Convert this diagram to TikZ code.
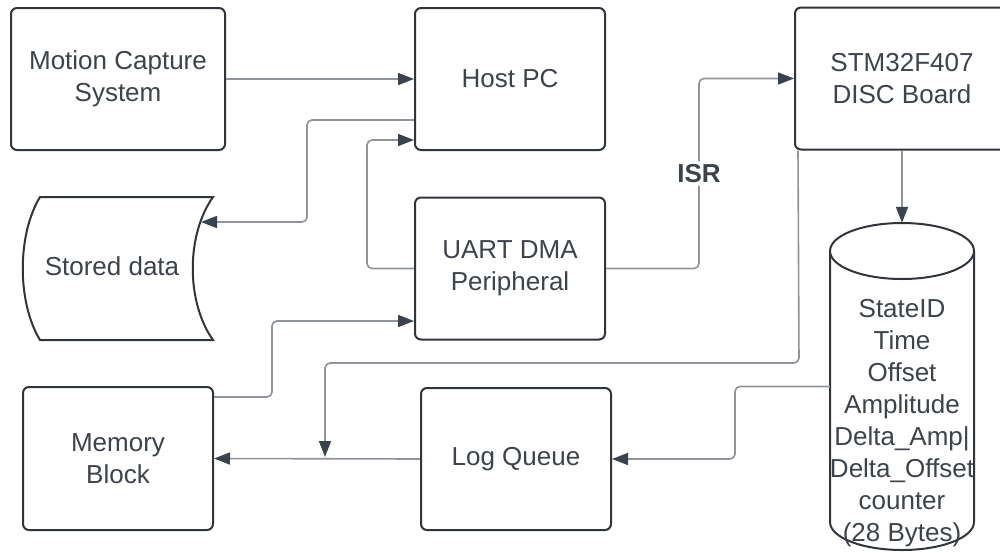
\documentclass[tikz,border=0pt]{standalone}
\usepackage{fontspec}
\setmainfont{Liberation Sans}
\usetikzlibrary{arrows.meta}
\definecolor{boxc}{HTML}{2F353B}
\definecolor{linec}{HTML}{8F949A}
\definecolor{tipc}{HTML}{3A424D}
\definecolor{txtc}{HTML}{3D434B}
\tikzset{
  blk/.style={draw=boxc, line width=2pt, rounded corners=6pt, fill=white,
    minimum width=190pt, minimum height=142pt, inner sep=0pt,
    align=center, text=txtc, font=\fontsize{26}{32}\selectfont},
  wideblk/.style={blk, minimum width=214pt},
  ghost/.style={inner sep=0pt, minimum width=#1},
  conn/.style={draw=linec, line width=1.6pt, rounded corners=5pt,
    -{Triangle[length=16pt,width=12pt,color=tipc]}},
  shapeline/.style={draw=boxc, line width=2pt, fill=white},
  isrlabel/.style={fill=white, inner sep=3pt, text=txtc,
    font=\fontsize{26}{32}\selectfont\bfseries},
  celltext/.style={align=center, text=txtc, inner sep=0pt,
    font=\fontsize{26}{32}\selectfont}
}
\begin{document}
\begin{tikzpicture}[x=1pt, y=-1pt]
\useasboundingbox[fill=white] (0,0) rectangle (1000,552);

% blocks
\node[wideblk] (mc)   at (118,79)    {Motion Capture\\System};
\node[blk]     (host) at (510,79)    {Host PC};
\node[wideblk] (stm)  at (902,78.5)  {STM32F407\\DISC Board};
\node[blk]     (uart) at (510,268.5) {UART DMA\\Peripheral};
\node[blk]     (logq) at (516,459)   {Log Queue};
\node[blk, minimum height=143pt] (mem) at (118,458.5) {Memory\\Block};

% stored data (curved-side storage symbol)
\path[shapeline] (40,197) -- (213,197) .. controls (186,235) and (186,302) .. (213,340)
  -- (40,340) .. controls (17,302) and (17,235) .. (40,197) -- cycle;
\node[celltext] (sd) at (112,266) {Stored data};
\coordinate (sdin) at (201,222);

% record store (cylinder)
\node[ghost=144pt, minimum height=327pt] (db) at (902,386.5) {};
\path[shapeline] (830,251) -- (830,522)
  arc[start angle=180, end angle=360, x radius=72pt, y radius=28pt]
  -- (974,251);
\path[shapeline] (902,251) ellipse [x radius=72pt, y radius=28pt];
\node[celltext] (dbtext) at (902,423)
  {StateID\\Time\\Offset\\Amplitude\\Delta\_Amp|\\Delta\_Offset\\counter\\(28 Bytes)};

% connectors
\draw[conn] (mc.east) -- (host.west);
\draw[conn] ([yshift=-41pt]host.west) -| (307,222) -- (sdin);
\draw[conn] (uart.west) -| (367,140) -- ([yshift=-61pt]host.west);
\draw[conn] ([yshift=61.5pt]mem.east) -| (272,321) -- ([yshift=-52.5pt]uart.west);
\draw[conn] (uart.east) -- (699,268.5) -- node[isrlabel] {ISR} (699,78.5) -- (stm.west);
\draw[conn] (stm.south) -- (db.north);
\coordinate (join) at (325,457);
\draw[conn] ([xshift=4pt]stm.south west) -- (799,363) -| (join);
\draw[conn] (db.west) -| (735,459) -- (logq.east);
\draw[conn] (logq.west) -- (mem.east);
\end{tikzpicture}
\end{document}
